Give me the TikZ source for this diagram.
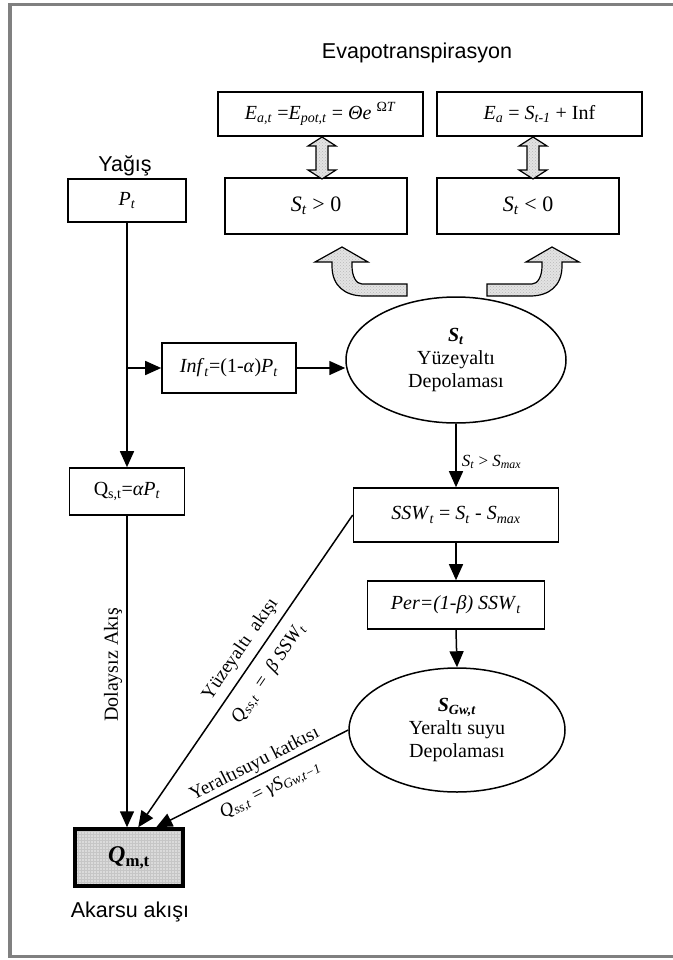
\documentclass[tikz,border=0pt]{standalone}
\usepackage{fontspec}
\setmainfont{Liberation Serif}
\newfontfamily\arialfont{Liberation Sans}
\usetikzlibrary{arrows.meta,shapes.geometric,patterns}

\newcommand{\iv}[1]{\textit{#1}}
\newcommand{\isub}[1]{\textsubscript{\textit{#1}}}

\tikzset{
  box/.style={draw, line width=1.6pt, rectangle, inner sep=0pt,
    font=\fontsize{20}{24}\selectfont},
  store/.style={draw, ellipse, line width=1.5pt, inner sep=0pt, align=center,
    font=\fontsize{20}{23}\selectfont},
  flow/.style={line width=1.5pt, -{Triangle[length=16pt,width=14pt]}},
  blockarrow/.style={draw, line width=1.2pt, preaction={fill=gray!22},
    pattern=crosshatch dots, pattern color=gray!55},
  caption/.style={font=\arialfont\fontsize{21.5}{25}\selectfont},
  lbl/.style={font=\fontsize{17}{20}\selectfont, inner sep=1pt},
  slbl/.style={font=\fontsize{19}{22}\selectfont, inner sep=1pt},
}

\begin{document}
\begin{tikzpicture}[x=1pt, y=-1pt]
\useasboundingbox (0,0) rectangle (672,960);

% outer frame
\draw[gray, line width=3.5pt] (10,4.5) rectangle (690,956.5);

% evapotranspiration part
\node[caption] (evap) at (417,53) {Evapotranspirasyon};
\node[box, minimum width=205pt, minimum height=44pt] (E1) at (320.5,114)
  {\iv{E}\isub{a,t} =\iv{E}\isub{pot,t} = \iv{Θe} \textsuperscript{Ω\iv{T}}};
\node[box, minimum width=205pt, minimum height=44pt] (E2) at (539.5,114)
  {\iv{E}\isub{a} = \iv{S}\isub{t-1} + Inf};
\node[box, minimum width=182pt, minimum height=56pt, font=\fontsize{22}{26}\selectfont] (pos) at (316,206)
  {\iv{S}\isub{t} > 0};
\node[box, minimum width=182pt, minimum height=56pt, font=\fontsize{22}{26}\selectfont] (neg) at (528,206)
  {\iv{S}\isub{t} < 0};

% double block arrows between the boxes
\path[blockarrow] (322,137) -- (336,146) -- (328,146) -- (328,170) -- (336,170)
  -- (322,179) -- (308,170) -- (316,170) -- (316,146) -- (308,146) -- cycle;
\path[blockarrow] (533,137) -- (547,146) -- (539,146) -- (539,170) -- (547,170)
  -- (533,179) -- (519,170) -- (527,170) -- (527,146) -- (519,146) -- cycle;

% bent block arrows rising from the storage
\path[blockarrow] (407,284) -- (362,284) .. controls (356,284) and (352,276) .. (352,266)
  -- (352,262) -- (368,262) -- (342,247) -- (315,262) -- (332,262) -- (332,266)
  .. controls (332,286) and (345,296) .. (364,296) -- (407,296) -- cycle;
\path[blockarrow] (487,284) -- (532,284) .. controls (538,284) and (542,276) .. (542,266)
  -- (542,262) -- (526,262) -- (552,247) -- (579,262) -- (562,262) -- (562,266)
  .. controls (562,286) and (549,296) .. (530,296) -- (487,296) -- cycle;

% precipitation column
\node[caption] (yagis) at (125,166) {Yağış};
\node[box, minimum width=118pt, minimum height=43pt] (P) at (127,200.5) {\iv{P}\isub{t}};
\node[box, minimum width=134pt, minimum height=50pt] (Inf) at (229,368)
  {\iv{Inf}\isub{t}=(1-\iv{α})\iv{P}\isub{t}};
\node[box, minimum width=115pt, minimum height=47pt] (Qs) at (127,491.5)
  {Q\textsubscript{s,t}=\iv{αP}\isub{t}};
\node[draw, line width=3.5pt, minimum width=108pt, minimum height=57pt, inner sep=0pt,
  preaction={fill=gray!28}, pattern=grid, pattern color=gray!45,
  font=\fontsize{24}{28}\selectfont] (Qm) at (129,857.5)
  {\textbf{\iv{Q}\textsubscript{m,t}}};
\node[caption] (akarsu) at (130,912) {Akarsu akışı};

% storages
\node[store, minimum width=220pt, minimum height=126pt] (St) at (456,360)
  {\textbf{\iv{S}\isub{t}}\\Yüzeyaltı\\Depolaması};
\node[box, minimum width=205pt, minimum height=54pt] (SSW) at (456,515)
  {\iv{SSW}\isub{t} = \iv{S}\isub{t} - \iv{S}\isub{max}};
\node[box, minimum width=177pt, minimum height=48pt] (Per) at (456,605)
  {\iv{Per=(1-β) SSW}\isub{t}};
\node[store, minimum width=216pt, minimum height=124pt] (Gw) at (457,730)
  {\textbf{\iv{S}\isub{Gw,t}}\\Yeraltı suyu\\Depolaması};

% connectors
\coordinate (split) at (127,368);
\draw[flow] (P.south) -- (Qs.north);
\draw[flow] (split) -- (Inf.west);
\draw[flow] (Inf.east) -- (Inf.east -| St.west);
\draw[flow] (St.south) -- (SSW.north)
  node[lbl, pos=0.6, right=4pt] {\iv{S}\isub{t} > \iv{S}\isub{max}};
\draw[flow] (SSW.south) -- (Per.north);
\draw[flow] (Per.south) -- (Gw.north);
\draw[flow] (Qs.south) -- (Qm.north -| Qs.south);
\node[font=\fontsize{20}{24}\selectfont, rotate=90] (direct) at (113,665) {Dolaysız Akış};
\draw[flow] (SSW.west) -- (Qm.73)
  node[slbl, sloped, pos=0.46, above=6pt] {Yüzeyaltı\ \ akışı}
  node[slbl, sloped, pos=0.47, below=10pt] {\iv{Q}\isub{ss,t} \ = \ \iv{β SSW}\isub{t}};
\draw[flow] (Gw.west) -- (Qm.48)
  node[slbl, sloped, pos=0.46, above=1pt] {Yeraltısuyu katkısı}
  node[slbl, sloped, pos=0.45, below=8pt] {\iv{Q}\isub{ss,t} = \iv{γS}\isub{Gw,t−1}};

\end{tikzpicture}
\end{document}
